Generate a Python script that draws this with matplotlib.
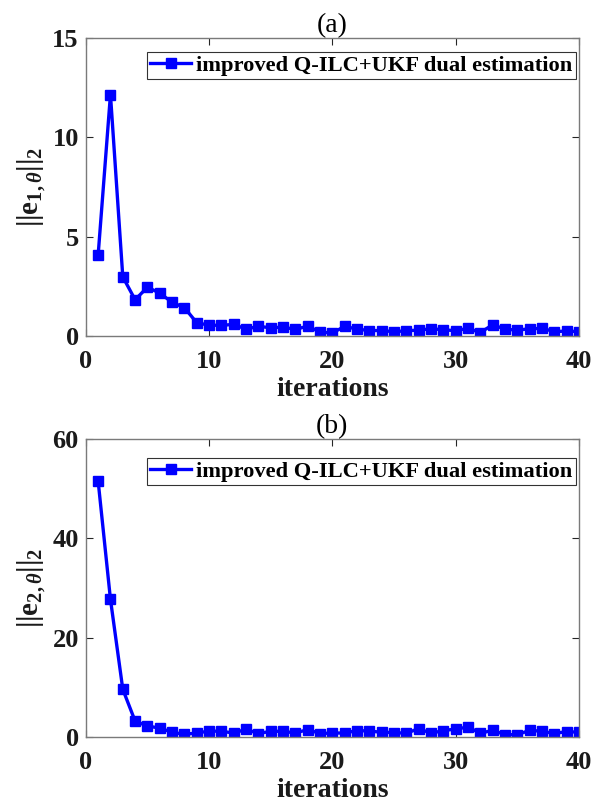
import numpy as np
import matplotlib
matplotlib.use("Agg")
import matplotlib.pyplot as plt

plt.rcParams["font.family"] = ["Liberation Serif", "DejaVu Serif"]
plt.rcParams["mathtext.fontset"] = "custom"
plt.rcParams["mathtext.rm"] = "Liberation Serif:bold"
plt.rcParams["mathtext.it"] = "Liberation Serif:bold:italic"
plt.rcParams["mathtext.bf"] = "Liberation Serif:bold"

iters = np.arange(1, 41)
err1 = [4.07, 12.15, 2.98, 1.83, 2.46, 2.16, 1.70, 1.43, 0.67, 0.55,
        0.54, 0.59, 0.35, 0.49, 0.42, 0.45, 0.34, 0.50, 0.20, 0.16,
        0.49, 0.35, 0.28, 0.28, 0.22, 0.27, 0.30, 0.37, 0.32, 0.27,
        0.39, 0.18, 0.57, 0.35, 0.30, 0.37, 0.39, 0.23, 0.25, 0.23]
err2 = [51.5, 27.7, 9.6, 3.2, 2.2, 1.8, 0.95, 0.55, 0.8, 1.2,
        1.15, 0.8, 1.55, 0.7, 1.15, 1.15, 0.8, 1.5, 0.7, 0.8,
        0.8, 1.3, 1.2, 0.95, 0.9, 0.75, 1.7, 0.75, 1.3, 1.6,
        2.0, 0.75, 1.35, 0.47, 0.47, 1.35, 1.15, 0.7, 1.1, 0.95]

panels = [
    ("(a)", err1, [0, 5, 10, 15], r"$||\mathrm{e}_{1,\theta}||_2$", 0.953),
    ("(b)", err2, [0, 20, 40, 60], r"$||\mathrm{e}_{2,\theta}||_2$", 0.936),
]
legend_text = "improved Q-ILC+UKF dual estimation"

fig = plt.figure(figsize=(6, 8.06), dpi=100)
boxes = [[0.143, 0.583, 0.822, 0.370], [0.143, 0.0856, 0.822, 0.370]]

for box, (title, vals, yt, ylab, legtop) in zip(boxes, panels):
    ax = fig.add_axes(box)
    ax.plot(iters, vals, color="#0000ff", lw=2.4, marker="s", ms=7,
            label=legend_text)
    ax.set_xlim(0, 40)
    ax.set_ylim(yt[0], yt[-1])
    ax.set_xticks([0, 10, 20, 30, 40])
    ax.set_yticks(yt)
    ax.tick_params(direction="in", top=True, right=True, labelsize=19,
                   length=5, width=0.8, colors="#262626", labelcolor="#1a1a1a")
    ax.tick_params(axis="x", pad=10)
    ax.tick_params(axis="y", pad=5)
    for lbl in ax.get_xticklabels() + ax.get_yticklabels():
        lbl.set_fontweight("bold")
    for sp in ax.spines.values():
        sp.set_color("#7a7a7a")
        sp.set_linewidth(1.0)
    ax.set_xlabel("iterations", fontsize=20, fontweight="bold", labelpad=3,
                  color="#1a1a1a")
    ax.set_ylabel(ylab, fontsize=21, labelpad=3, color="#1a1a1a")
    ax.set_title(title, fontsize=20, pad=4)
    leg = ax.legend(loc="upper right", bbox_to_anchor=(0.994, legtop),
                    prop={"weight": "bold", "size": 16.2},
                    frameon=True, fancybox=False, borderpad=0.15,
                    handlelength=1.8, handletextpad=0.25, borderaxespad=0.0)
    leg.get_frame().set_edgecolor("black")
    leg.get_frame().set_linewidth(0.8)

fig.savefig("out.png", dpi=100)
